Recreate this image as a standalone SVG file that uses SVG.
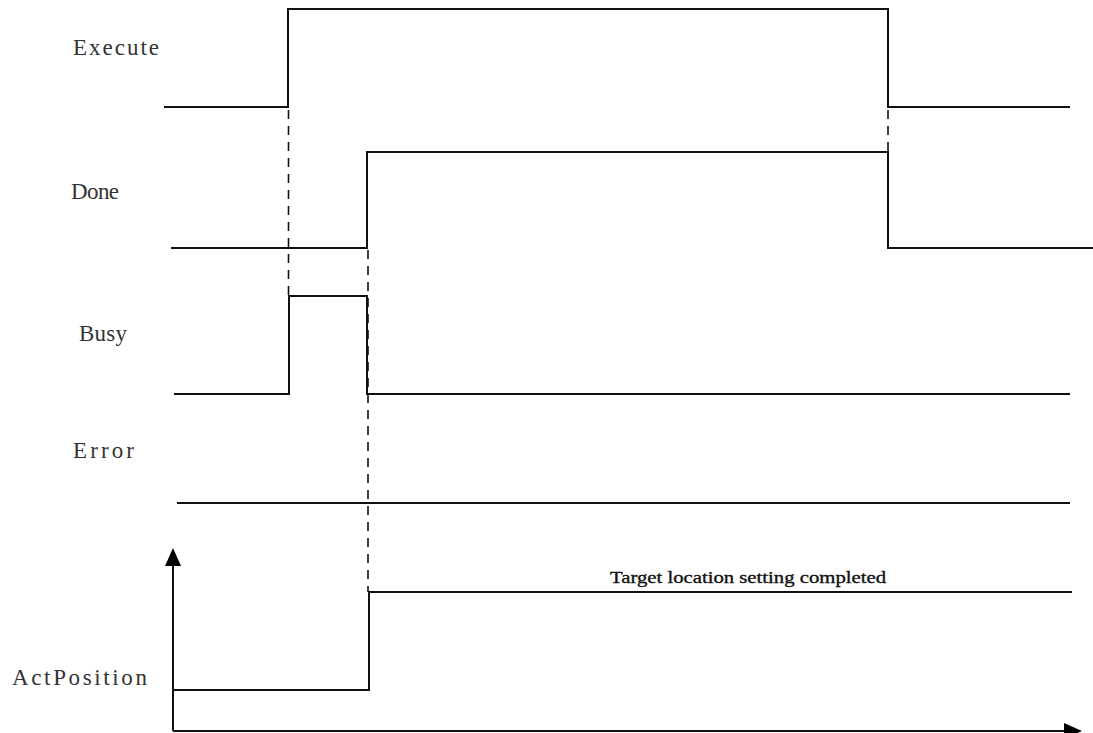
<svg xmlns="http://www.w3.org/2000/svg" width="1093" height="733" viewBox="0 0 1093 733">
<style>
.sig{fill:none;stroke:#111;stroke-width:2;stroke-linejoin:miter}
.dash{fill:none;stroke:#111;stroke-width:1.6;stroke-dasharray:9,7}
.lbl{font-family:"Liberation Serif","DejaVu Serif",serif;font-size:23px;fill:#333}
.note{font-family:"Liberation Serif","DejaVu Serif",serif;font-size:17px;fill:#111;stroke:#111;stroke-width:0.35}
</style>
<defs>
<marker id="ah" viewBox="0 0 10 10" refX="10" refY="5" markerWidth="8" markerHeight="8" markerUnits="userSpaceOnUse" orient="auto">
<path d="M0,0 L10,5 L0,10 Z" fill="#000"/>
</marker>
</defs>
<rect width="1093" height="733" fill="#fff"/>
<g id="execute">
<text class="lbl" x="73" y="55" textLength="86">Execute</text>
<polyline class="sig" points="164,107 288,107 288,9 888,9 888,107 1070,107"/>
</g>
<g id="done">
<text class="lbl" x="71" y="199" textLength="48">Done</text>
<polyline class="sig" points="171,248 367,248 367,152 888,152 888,248 1093,248"/>
</g>
<g id="busy">
<text class="lbl" x="79" y="341" textLength="48">Busy</text>
<polyline class="sig" points="174,394 289,394 289,296 367,296 367,394 1070,394"/>
</g>
<g id="error">
<text class="lbl" x="73" y="458" textLength="61">Error</text>
<line class="sig" x1="177" y1="503" x2="1070" y2="503"/>
</g>
<g id="actposition">
<text class="lbl" x="12" y="685" textLength="135">ActPosition</text>
<polyline class="sig" points="173,690 369,690 369,592 1072,592"/>
<text class="note" x="610" y="583" textLength="276" lengthAdjust="spacingAndGlyphs">Target location setting completed</text>
</g>
<g id="axes">
<line class="sig" x1="173" y1="731" x2="173" y2="565"/>
<path d="M165,566 L173,548 L181,566 Z" fill="#000"/>
<line class="sig" x1="173" y1="731" x2="1066" y2="731"/>
<path d="M1064,723 L1082,731 L1064,739 Z" fill="#000"/>
</g>
<g id="connectors">
<line class="dash" x1="288.5" y1="110" x2="288.5" y2="296"/>
<line class="dash" x1="368" y1="250" x2="368" y2="592"/>
<line class="dash" x1="888" y1="110" x2="888" y2="152"/>
</g>
</svg>
